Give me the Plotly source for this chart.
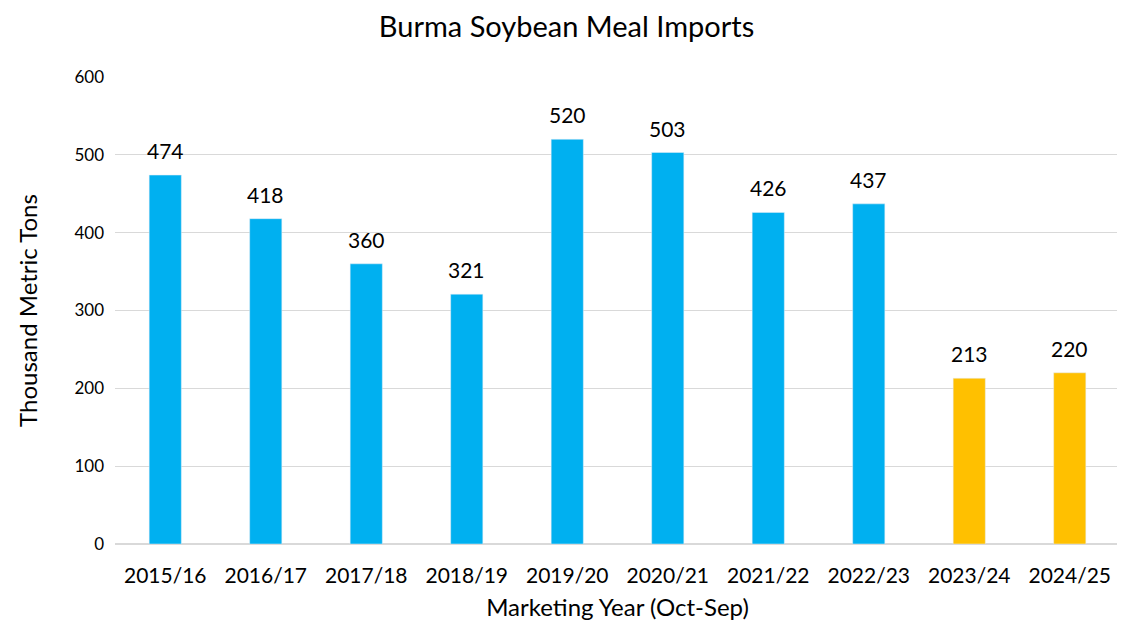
import plotly.graph_objects as go

years = ["2015/16", "2016/17", "2017/18", "2018/19", "2019/20", "2020/21",
         "2021/22", "2022/23", "2023/24", "2024/25"]
imports = [474, 418, 360, 321, 520, 503, 426, 437, 213, 220]
colors = ["#00B0F0"] * 8 + ["#FFC000"] * 2

fig = go.Figure(go.Bar(x=years, y=imports, marker_color=colors))

for yr, v in zip(years, imports):
    fig.add_annotation(x=yr, y=v, text=str(v), showarrow=False,
                       yanchor="bottom", yshift=10,
                       font=dict(size=21, color="#000000"))

fig.update_layout(
    width=1117, height=615,
    font=dict(family="Lato, Carlito, Calibri, sans-serif", color="#000000"),
    title=dict(text="Burma Soybean Meal Imports", x=0.5, xanchor="center",
               y=0.97, yanchor="middle", yref="container", font=dict(size=29)),
    plot_bgcolor="white", paper_bgcolor="white",
    margin=dict(l=107, r=5, t=69, b=79, autoexpand=False),
    bargap=0.68, showlegend=False,
    xaxis=dict(title=dict(text="Marketing Year (Oct-Sep)", font=dict(size=24), standoff=12),
               tickfont=dict(size=21), showline=True, linecolor="#d9d9d9", ticks="",
               ticklabelstandoff=13, automargin=False),
    yaxis=dict(title=dict(text="Thousand Metric Tons", font=dict(size=24), standoff=30),
               range=[0, 600], dtick=100, tickfont=dict(size=17),
               gridcolor="#d9d9d9", zeroline=True, zerolinecolor="#d9d9d9", ticks="",
               ticklabelstandoff=10, automargin=False),
)

fig.write_html("out.html")
